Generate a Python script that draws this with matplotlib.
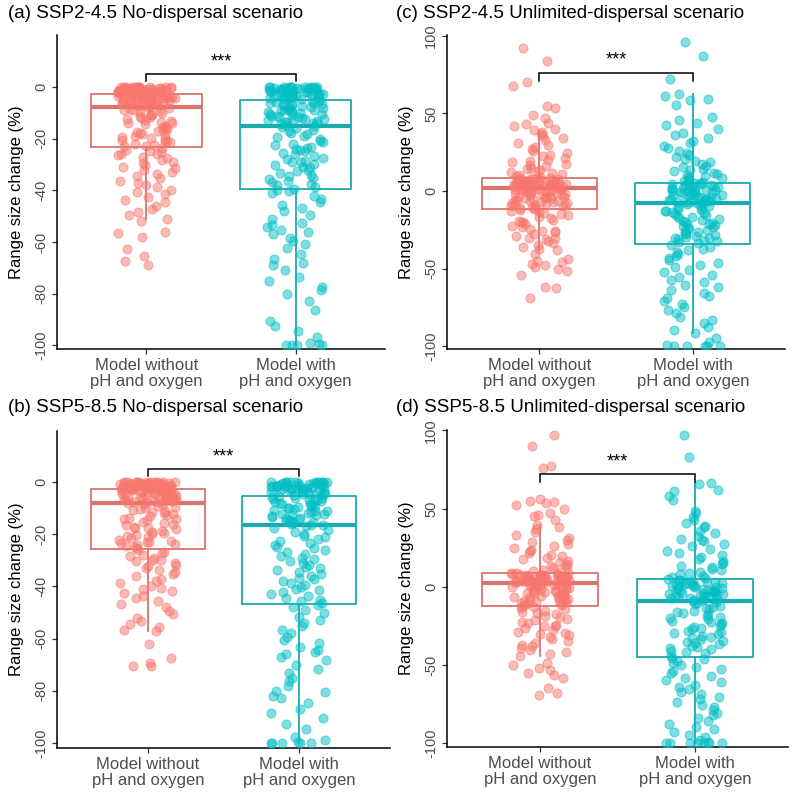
import numpy as np
import matplotlib
matplotlib.use("Agg")
import matplotlib.pyplot as plt

plt.rcParams['font.family'] = ['Liberation Sans', 'DejaVu Sans']

categories = ["Model without\npH and oxygen", "Model with\npH and oxygen"]
titles = ["(a) SSP2-4.5 No-dispersal scenario", "(c) SSP2-4.5 Unlimited-dispersal scenario",
          "(b) SSP5-8.5 No-dispersal scenario", "(d) SSP5-8.5 Unlimited-dispersal scenario"]
ylabel = "Range size change (%)"
stars = "***"

# ---------------- point values ----------------
a_without = [0, 0, 0, 0, 0, 0, 0, 0, 0, 0, -0.1, -0.1, -0.2, -0.3, -0.3, -0.4, -0.5, -0.6, -0.6, -0.7, -0.8, -0.9, -1.0,
             -1.1, -1.1, -1.2, -1.3, -1.4, -1.5, -1.6, -1.7, -1.8, -1.8, -1.9, -2.0, -2.1, -2.2, -2.3, -2.3, -2.4,
             -2.5, -2.6, -2.6, -0.2, -0.5, -0.9, -1.3, -2.0,
             -2.8, -2.9, -3.0, -3.1, -3.2, -3.3, -3.4, -3.5, -3.6, -3.7, -3.8, -3.9, -4.0, -4.1, -4.2, -4.3, -4.4,
             -4.5, -4.6, -4.7, -4.8, -4.9, -5.0, -5.2, -5.3, -5.5, -5.6, -5.8, -5.9, -6.1, -6.2, -6.4, -6.5, -6.7,
             -6.8, -7.0, -7.1, -7.2, -7.3, -7.5, -3.3, -4.4, -5.5,
             -7.8, -8.1, -8.4, -8.7, -9.0, -9.4, -9.7, -10.1, -10.5, -10.8, -11.2, -11.6, -12.0, -12.3, -12.7,
             -13.1, -13.5, -14.0, -14.4, -14.9, -15.3, -15.8, -16.3, -16.8, -17.3, -17.8, -18.3, -18.7, -19.2,
             -19.6, -20.1, -20.5, -21.0, -21.4, -21.9, -22.3, -22.7, -23.0, -11.0, -13.8, -17.1, -18.9, -21.2,
             -23.6, -24.2, -24.8, -25.3, -25.9, -26.4, -27.0, -27.6, -28.2, -28.9, -29.5, -30.1, -30.8, -31.5,
             -32.3, -33.0, -33.8, -34.6, -35.4, -36.2, -37.0, -37.9, -38.8, -39.7, -40.6, -41.5, -42.5, -43.6,
             -44.7, -46.0, -47.2, -48.3, -49.5, -51.0, -52.0, -56.0, -56.5, -58.2, -62.8, -65.3, -67.2, -69.1, -26.1]
a_with = [0, 0, 0, 0, 0, 0, 0, 0, 0, -0.1, -0.2, -0.3, -0.4, -0.5, -0.6, -0.7, -0.8, -0.9, -1.0, -1.1, -1.3, -1.4,
          -1.6, -1.7, -1.9, -2.0, -2.2, -2.3, -2.5, -2.6, -2.8, -2.9, -3.1, -3.2, -3.4, -3.5, -3.7, -3.8, -4.0,
          -4.1, -4.3, -4.4, -4.6, -4.7, -0.3, -1.2, -2.4,
          -5.0, -5.2, -5.5, -5.7, -6.0, -6.2, -6.5, -6.7, -7.0, -7.2, -7.5, -7.7, -8.0, -8.2, -8.5, -8.7, -9.0,
          -9.3, -9.5, -9.8, -10.0, -10.3, -10.6, -10.9, -11.1, -11.4, -11.7, -12.0, -12.2, -12.5, -12.8, -13.0,
          -13.3, -13.6, -13.9, -14.1, -14.4, -14.7, -14.9, -6.4, -8.8, -11.2, -13.5,
          -15.3, -15.9, -16.5, -17.1, -17.7, -18.3, -18.9, -19.5, -20.1, -20.7, -21.3, -21.9, -22.5, -23.1,
          -23.7, -24.3, -24.9, -25.5, -26.1, -26.7, -27.3, -27.9, -28.5, -29.1, -29.7, -30.3, -30.9, -31.5,
          -32.1, -32.7, -33.3, -33.9, -34.5, -35.1, -35.7, -36.3, -36.9, -37.5, -38.1, -38.7, -39.3, -24.0, -29.0,
          -39.8, -40.3, -41.0, -42.1, -43.4, -44.6, -45.8, -46.9, -48.1, -49.5, -51.0, -52.6, -53.5, -54.3,
          -55.2, -56.1, -57.0, -58.3, -59.5, -60.8, -62.2, -64.5, -66.8, -68.2, -69.0, -71.0, -73.5, -75.3,
          -77.4, -78.8, -80.2, -83.0, -86.5, -90.6, -92.5, -94.6, -97.0, -99.0, -99.5, -100, -100, -100, -100]
b_without = [0, 0, 0, 0, 0, 0, 0, 0, 0, 0, -0.1, -0.2, -0.2, -0.3, -0.4, -0.5, -0.5, -0.6, -0.7, -0.8, -0.9, -1.0, -1.0,
             -1.1, -1.2, -1.3, -1.4, -1.5, -1.5, -1.6, -1.7, -1.8, -1.9, -1.9, -2.0, -2.1, -2.2, -2.3, -2.3, -2.4,
             -2.5, -2.5, -0.3, -0.7, -1.1, -1.6, -2.0, -2.4,
             -2.7, -2.8, -3.0, -3.1, -3.2, -3.4, -3.5, -3.6, -3.8, -3.9, -4.0, -4.2, -4.3, -4.4, -4.6, -4.7, -4.8,
             -5.0, -5.1, -5.2, -5.4, -5.5, -5.6, -5.8, -5.9, -6.0, -6.2, -6.3, -6.4, -6.6, -6.7, -6.8, -7.0, -7.1,
             -7.2, -7.4, -7.5, -7.6, -7.8, -7.9, -3.6, -5.2, -6.5,
             -8.3, -8.7, -9.1, -9.5, -10.0, -10.4, -10.8, -11.3, -11.7, -12.2, -12.7, -13.1, -13.6, -14.1, -14.6,
             -15.1, -15.6, -16.1, -16.6, -17.1, -17.6, -18.1, -18.6, -19.1, -19.6, -20.1, -20.6, -21.1, -21.6,
             -22.1, -22.5, -23.0, -23.4, -23.8, -24.2, -24.6, -25.0, -25.4, -11.0, -14.0, -17.5, -20.0, -22.8,
             -26.0, -26.6, -27.2, -27.9, -28.5, -29.1, -29.7, -30.3, -31.0, -31.6, -32.3, -33.0, -33.8, -34.5,
             -35.3, -36.1, -37.0, -37.9, -38.8, -39.7, -40.7, -41.6, -42.5, -43.5, -44.5, -45.6, -46.8, -48.0,
             -49.3, -50.6, -51.9, -53.2, -54.5, -55.7, -56.5, -57.2, -62.0, -67.5, -69.5, -70.4, -70.6, -41.0, -29.9]
b_with = [0, 0, 0, 0, 0, 0, 0, 0, 0, -0.1, -0.2, -0.3, -0.4, -0.5, -0.7, -0.8, -0.9, -1.0, -1.2, -1.3, -1.4, -1.6,
          -1.7, -1.8, -2.0, -2.1, -2.3, -2.4, -2.6, -2.7, -2.9, -3.0, -3.2, -3.3, -3.5, -3.6, -3.8, -3.9, -4.1,
          -4.3, -4.4, -4.6, -4.8, -5.0, -0.6, -1.5, -2.8,
          -5.4, -5.7, -6.0, -6.2, -6.5, -6.8, -7.1, -7.4, -7.7, -8.0, -8.2, -8.5, -8.8, -9.1, -9.4, -9.7, -10.0,
          -10.3, -10.6, -10.9, -11.2, -11.5, -11.8, -12.1, -12.4, -12.7, -13.0, -13.3, -13.6, -13.9, -14.2,
          -14.5, -14.8, -15.1, -15.4, -15.7, -16.0, -16.3, -16.5, -7.0, -9.9, -12.6, -15.0,
          -17.0, -17.7, -18.4, -19.1, -19.8, -20.5, -21.2, -21.9, -22.6, -23.3, -24.0, -24.7, -25.4, -26.1,
          -26.8, -27.5, -28.2, -28.9, -29.6, -30.3, -31.0, -31.7, -32.4, -33.1, -33.8, -34.5, -35.2, -35.9,
          -36.6, -37.3, -38.0, -38.7, -39.4, -40.1, -40.8, -41.5, -42.2, -42.9, -43.6, -44.3, -45.0, -45.7, -46.4,
          -47.0, -47.8, -49.0, -50.3, -51.5, -52.8, -54.0, -55.3, -56.6, -57.9, -59.2, -60.5, -61.8, -63.1,
          -64.4, -65.0, -65.7, -67.0, -68.3, -70.0, -71.6, -73.3, -75.0, -76.2, -78.0, -80.2, -80.6, -82.1,
          -82.6, -84.5, -86.8, -88.5, -90.4, -92.8, -94.6, -97.6, -99.0, -99.6, -100, -100, -100, -100, -100]
c_without = [9.0, 9.5, 10.1, 10.7, 11.3, 12.0, 12.7, 13.4, 14.2, 15.0, 15.8, 16.6, 17.5, 18.4, 19.3, 20.2, 21.2,
             22.3, 23.4, 24.6, 25.8, 27.0, 28.3, 29.7, 31.1, 32.6, 34.0, 35.5, 37.0, 38.0, 39.3, 40.2, 42.0,
             43.1, 44.0, 47.0, 49.2, 53.7, 55.1, 68.0, 70.1, 84.0, 92.0,
             1.8, 2.0, 2.1, 2.3, 2.5, 2.6, 2.8, 3.0, 3.1, 3.3, 3.5, 3.6, 3.8, 4.0, 4.2, 4.3, 4.5, 4.7, 4.9, 5.0,
             5.2, 5.4, 5.6, 5.8, 5.9, 6.1, 6.3, 6.5, 6.7, 6.9, 7.1, 7.3, 7.4, 7.6, 7.8, 8.0, 8.2, 8.4, 8.5, 3.2,
             4.8, 6.0, 7.0,
             1.6, 1.3, 1.0, 0.7, 0.4, 0.1, -0.2, -0.5, -0.8, -1.1, -1.4, -1.7, -2.0, -2.4, -2.7, -3.0, -3.4,
             -3.7, -4.0, -4.4, -4.8, -5.1, -5.5, -5.9, -6.3, -6.7, -7.1, -7.5, -7.9, -8.3, -8.7, -9.1, -9.5,
             -9.9, -10.3, -10.7, -11.1, -11.5, -0.3, -2.2, -4.6, -6.9, -9.0,
             -12.2, -12.8, -13.5, -14.2, -15.0, -15.8, -16.6, -17.5, -18.4, -19.3, -20.3, -21.3, -22.3, -23.3,
             -24.4, -25.5, -26.6, -27.7, -28.8, -30.0, -31.2, -32.4, -33.6, -34.8, -36.0, -37.2, -38.0, -40.9,
             -43.8, -44.9, -45.5, -46.8, -47.6, -49.1, -50.5, -51.7, -54.4, -61.8, -62.7, -68.9, -20.0, -26.0, -30.5]
c_with = [5.8, 6.3, 6.9, 7.5, 8.1, 8.8, 9.5, 10.2, 11.0, 11.8, 12.6, 13.5, 14.4, 15.3, 16.3, 17.3, 18.4, 19.5,
          20.7, 21.9, 23.2, 24.5, 26.0, 27.5, 29.0, 30.7, 32.4, 34.2, 36.1, 37.3, 39.8, 42.5, 44.0, 45.5, 47.6,
          55.6, 58.4, 59.6, 61.2, 62.4, 72.5, 87.0, 95.9,
          5.3, 5.0, 4.7, 4.4, 4.0, 3.7, 3.4, 3.1, 2.8, 2.5, 2.1, 1.8, 1.5, 1.2, 0.9, 0.6, 0.2, -0.1, -0.4, -0.7,
          -1.0, -1.3, -1.7, -2.0, -2.3, -2.6, -2.9, -3.3, -3.6, -3.9, -4.2, -4.5, -4.9, -5.2, -5.5, -5.8, -6.1,
          -6.5, -6.8, -7.1, -7.4, -7.7, -7.9,
          -8.4, -9.0, -9.6, -10.2, -10.8, -11.4, -12.0, -12.6, -13.2, -13.8, -14.4, -15.0, -15.6, -16.2, -16.8,
          -17.4, -18.0, -18.6, -19.2, -19.8, -20.4, -21.0, -21.6, -22.2, -22.8, -23.4, -24.0, -24.6, -25.2,
          -25.8, -26.4, -27.0, -27.6, -28.2, -28.8, -29.4, -30.0, -30.6, -31.2, -31.8, -32.4, -33.0, -33.8,
          -35.0, -36.0, -37.1, -38.3, -39.5, -40.7, -42.0, -43.4, -44.8, -46.2, -47.7, -49.2, -50.8, -52.3,
          -53.9, -55.5, -57.1, -58.7, -60.4, -62.1, -63.8, -65.6, -67.4, -69.2, -71.0, -73.0, -75.0, -77.0,
          -79.0, -81.0, -83.2, -85.4, -87.6, -89.8, -91.8, -94.8, -97.2, -99.0, -99.8, -100, -100, -100, -100]
d_without = [9.1, 9.7, 10.3, 11.0, 11.7, 12.4, 13.2, 14.0, 14.8, 15.7, 16.6, 17.5, 18.5, 19.5, 20.5, 21.6,
             22.7, 23.8, 25.0, 26.2, 27.4, 28.7, 30.0, 31.5, 33.0, 35.0, 37.0, 38.5, 39.8, 43.0, 45.0, 46.1,
             47.3, 49.8, 52.0, 53.4, 54.2, 55.0, 56.3, 76.0, 77.2, 90.1, 97.4,
             2.2, 2.4, 2.5, 2.7, 2.9, 3.0, 3.2, 3.4, 3.5, 3.7, 3.9, 4.1, 4.2, 4.4, 4.6, 4.7, 4.9, 5.1, 5.2, 5.4,
             5.6, 5.7, 5.9, 6.1, 6.3, 6.4, 6.6, 6.8, 6.9, 7.1, 7.3, 7.4, 7.6, 7.8, 8.0, 8.1, 8.3, 8.5, 8.6, 3.3,
             4.8, 6.2, 7.5,
             2.0, 1.7, 1.4, 1.0, 0.7, 0.3, 0.0, -0.3, -0.7, -1.0, -1.4, -1.7, -2.1, -2.4, -2.8, -3.1, -3.5, -3.9,
             -4.2, -4.6, -5.0, -5.4, -5.8, -6.2, -6.6, -7.0, -7.4, -7.8, -8.2, -8.6, -9.0, -9.4, -9.8, -10.2,
             -10.6, -11.0, -11.4, -11.8, -12.2, -1.2, -3.8, -6.4, -9.6,
             -13.0, -13.7, -14.4, -15.2, -16.0, -16.8, -17.7, -18.6, -19.5, -20.4, -21.4, -22.4, -23.4, -24.4,
             -25.4, -26.5, -27.6, -28.7, -29.8, -31.0, -32.2, -33.4, -34.6, -35.8, -37.0, -38.2, -39.4, -40.6,
             -41.8, -43.0, -44.0, -49.0, -50.3, -51.8, -53.0, -55.2, -56.4, -58.6, -65.0, -68.0, -69.3, -24.8, -30.5]
d_with = [5.2, 5.8, 6.5, 7.2, 8.0, 8.8, 9.6, 10.5, 11.4, 12.4, 13.4, 14.4, 15.5, 16.6, 17.8, 19.0, 20.3, 21.6,
          23.0, 24.4, 25.9, 27.5, 29.1, 30.8, 32.6, 34.5, 36.0, 38.2, 39.0, 40.6, 42.8, 44.4, 47.0, 48.7, 55.5,
          57.8, 61.0, 62.0, 65.5, 66.5, 30.0, 83.0, 97.0,
          4.6, 4.3, 4.0, 3.6, 3.3, 3.0, 2.7, 2.3, 2.0, 1.7, 1.4, 1.0, 0.7, 0.4, 0.1, -0.3, -0.6, -0.9, -1.2,
          -1.6, -1.9, -2.2, -2.5, -2.9, -3.2, -3.5, -3.8, -4.2, -4.5, -4.8, -5.1, -5.5, -5.8, -6.1, -6.4, -6.8,
          -7.1, -7.4, -7.7, -8.1, -8.4, -8.7, -9.0,
          -9.6, -10.4, -11.2, -12.0, -12.8, -13.6, -14.4, -15.2, -16.0, -16.8, -17.6, -18.4, -19.2, -20.0,
          -20.8, -21.6, -22.4, -23.2, -24.0, -24.8, -25.6, -26.4, -27.2, -28.0, -28.8, -29.6, -30.4, -31.2,
          -32.0, -32.8, -33.6, -34.4, -35.2, -36.0, -36.8, -37.6, -38.4, -39.2, -40.0, -40.8, -41.6, -42.6, -44.0,
          -45.3, -46.4, -47.6, -48.8, -50.1, -51.4, -52.7, -54.0, -55.4, -56.8, -58.2, -59.6, -61.1, -62.6,
          -64.1, -65.6, -67.2, -68.8, -70.4, -72.0, -73.7, -75.4, -77.1, -78.8, -80.5, -82.2, -84.0, -85.8,
          -87.6, -89.4, -91.2, -93.0, -94.8, -96.4, -98.0, -99.2, -99.8, -100, -100, -100, -100, -100, -100]

# ---------------- box statistics ----------------
# [q1, median, q3, lower whisker, upper whisker] for (without, with)
a_box = [[-23.1, -7.6, -2.7, -51.3, 0.0], [-39.5, -15.0, -4.8, -100.0, 0.0]]
c_box = [[-11.8, 1.7, 8.6, -38.0, 38.0], [-34.4, -8.0, 5.4, -91.8, 62.4]]
b_box = [[-25.5, -8.0, -2.6, -57.2, 0.0], [-46.6, -16.6, -5.2, -100.0, 0.0]]
d_box = [[-12.6, 2.1, 8.7, -44.0, 39.8], [-44.7, -9.1, 4.7, -100.0, 66.5]]

# significance bracket: [bracket height, tick bottom, star height]
a_sig = [5.0, 2.3, 9.7]
c_sig = [76.0, 71.0, 84.5]
b_sig = [5.0, 2.3, 9.7]
d_sig = [72.0, 67.0, 80.0]

panel_points = [(a_without, a_with), (c_without, c_with), (b_without, b_with), (d_without, d_with)]
panel_boxes = [a_box, c_box, b_box, d_box]
panel_sig = [a_sig, c_sig, b_sig, d_sig]
panel_ticks = [[0, -20, -40, -60, -80, -100], [100, 50, 0, -50, -100],
               [0, -20, -40, -60, -80, -100], [100, 50, 0, -50, -100]]
panel_ylim = [(-101.5, 20.2), (-101.9, 100.6), (-101.9, 19.6), (-102.5, 100.3)]

W, H = 800, 793
panel_px = [(57, 35, 385, 349), (447, 35, 785, 349), (57, 431, 390, 748), (447, 430, 788, 747)]
title_px = [(8, 14), (396, 14), (8, 407), (396, 407)]

point_colors = ["#F8766D", "#00BFC4"]
box_colors = ["#D9736C", "#1BAAAD"]
tick_col = "#4D4D4D"

fig = plt.figure(figsize=(W / 100, H / 100), dpi=100)

for p in range(4):
    x0, y0, x1, y1 = panel_px[p]
    ax = fig.add_axes([x0 / W, 1 - y1 / H, (x1 - x0) / W, (y1 - y0) / H])
    # boxes
    for g in range(2):
        q1, med, q3, lo, hi = panel_boxes[p][g]
        st = dict(q1=q1, med=med, q3=q3, whislo=lo, whishi=hi, fliers=[])
        ax.bxp([st], positions=[g + 1], widths=0.75, showfliers=False, showcaps=False,
               patch_artist=False,
               boxprops=dict(color=box_colors[g], linewidth=1.3),
               whiskerprops=dict(color=box_colors[g], linewidth=1.3),
               medianprops=dict(color=box_colors[g], linewidth=3.0, solid_capstyle='butt'),
               manage_ticks=False, zorder=2)
    # jittered points (deterministic, irregular jitter positions)
    for g in range(2):
        vals = np.asarray(panel_points[p][g], dtype=float)
        k = np.arange(len(vals)) + 1.0
        frac = np.modf(np.abs(np.sin(k * 12.9898 + 78.233 * (g + 1) + 37.719 * (p + 1))) * 43758.5453)[0]
        xs = (g + 1) + (frac * 2 - 1) * 0.19
        ax.scatter(xs, vals, s=42, color=point_colors[g], alpha=0.5, linewidths=0.8,
                   edgecolors=point_colors[g], zorder=3)
    # significance bracket
    top, tb, sy = panel_sig[p]
    ax.plot([1, 1, 2, 2], [tb, top, top, tb], color="black", lw=1.1, zorder=4, solid_joinstyle='miter')
    ax.text(1.5, sy, stars, ha="center", va="center", fontsize=13, color="black")

    ax.set_xlim(0.4, 2.6)
    ax.set_ylim(*panel_ylim[p])
    ax.set_xticks([1, 2])
    ax.set_xticklabels(categories, fontsize=12, color=tick_col, linespacing=1.05)
    ax.set_yticks(panel_ticks[p])
    ax.set_yticklabels([str(t) for t in panel_ticks[p]], fontsize=10.5, color=tick_col,
                       rotation=90, va="center", ha="right")
    ax.tick_params(axis="both", length=3.5, width=0.9, color="#333333", pad=3)
    for s in ["top", "right"]:
        ax.spines[s].set_visible(False)
    for s in ["left", "bottom"]:
        ax.spines[s].set_linewidth(1.1)
        ax.spines[s].set_color("black")
    ax.set_ylabel(ylabel, fontsize=12, color="black", labelpad=7)
    tx, ty = title_px[p]
    fig.text(tx / W, 1 - ty / H, titles[p], fontsize=13.5, ha="left", va="center", color="black")

fig.savefig("out.png", dpi=100)
